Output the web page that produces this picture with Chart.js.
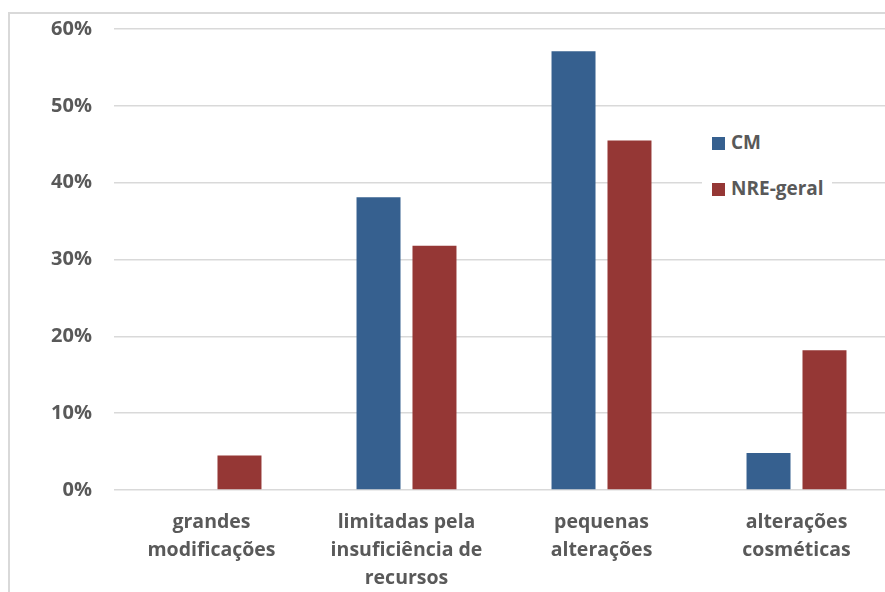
<!DOCTYPE html>
<html>
<head>
<meta charset="utf-8">
<script src="https://cdn.jsdelivr.net/npm/chart.js@4/dist/chart.umd.min.js"></script>
<style>
  html, body { margin: 0; padding: 0; background: #fff; overflow: hidden; }
  #wrap { position: relative; width: 885px; height: 592px; overflow: hidden; }
  #frame { position: absolute; left: 8px; top: 12px; width: 900px; height: 600px;
           border-left: 2px solid #d9d9d9; border-top: 2px solid #d9d9d9; }
  #grafico { position: absolute; left: 0; top: 0; }
  #legenda { position: absolute; left: 702px; top: 124px; width: 130px; height: 82px;
             background: #fff; font: bold 19px 'Open Sans', sans-serif; color: #595959; }
  #legenda div { position: absolute; left: 10px; height: 24px; line-height: 24px; }
  #legenda span { display: inline-block; width: 13px; height: 13px; margin-right: 6px; vertical-align: -1px; }
</style>
</head>
<body>
<div id="wrap">
  <div id="frame"></div>
  <canvas id="grafico" width="894" height="592"></canvas>
  <div id="legenda"></div>
</div>
<script>
// Dados
const categorias = [
  ["grandes", "modificações"],
  ["limitadas pela", "insuficiência de", "recursos"],
  ["pequenas", "alterações"],
  ["alterações", "cosméticas"]
];
const serieCM = [0, 38.1, 57.1, 4.8];
const serieNRE = [4.5, 31.8, 45.5, 18.2];
const nomesSeries = ["CM", "NRE-geral"];
const coresSeries = ["#36608f", "#953735"];
const ticksY = [0, 10, 20, 30, 40, 50, 60];

const fonteX = { family: "'Open Sans', sans-serif", size: 19.5, weight: "bold", lineHeight: 28 / 19.5 };
const fonteY = { family: "'Open Sans', sans-serif", size: 20, weight: "bold" };
const cinza = "#595959";

const chart = new Chart(document.getElementById("grafico"), {
  type: "bar",
  data: {
    labels: categorias,
    datasets: [
      { label: nomesSeries[0], data: serieCM, backgroundColor: coresSeries[0] },
      { label: nomesSeries[1], data: serieNRE, backgroundColor: coresSeries[1] }
    ]
  },
  options: {
    responsive: false,
    animation: false,
    categoryPercentage: 0.574,
    barPercentage: 0.786,
    layout: { padding: { top: 29, left: 0, right: 0, bottom: 0 } },
    plugins: { legend: { display: false }, tooltip: { enabled: false } },
    scales: {
      x: {
        grid: { display: false, drawTicks: false },
        border: { display: false },
        ticks: { color: cinza, font: fonteX, padding: 18, maxRotation: 0, autoSkip: false },
        afterFit: s => { s.height = 102; s.paddingLeft = 0; s.paddingRight = 0; }
      },
      y: {
        min: 0,
        max: 60,
        afterBuildTicks: s => { s.ticks = ticksY.map(v => ({ value: v })); },
        grid: { color: "#d9d9d9", lineWidth: 1.5, drawTicks: false },
        border: { display: false },
        ticks: { color: cinza, font: fonteY, padding: 22, callback: v => v + "%" },
        afterFit: s => { s.width = 114; s.paddingTop = 0; s.paddingBottom = 0; }
      }
    }
  }
});

// acerta o topo da área do gráfico em y = 29
for (let i = 0; i < 3; i++) {
  const a = chart.chartArea;
  if (Math.abs(a.top - 29) < 0.5) break;
  chart.options.layout.padding.top = Math.max(0, chart.options.layout.padding.top + 29 - a.top);
  chart.update("none");
}

// Legenda em HTML
const legenda = document.getElementById("legenda");
nomesSeries.forEach((nome, i) => {
  const item = document.createElement("div");
  item.style.top = (6 + i * 46) + "px";
  item.innerHTML = `<span style="background:${coresSeries[i]}"></span>${nome}`;
  legenda.appendChild(item);
});
</script>
</body>
</html>
